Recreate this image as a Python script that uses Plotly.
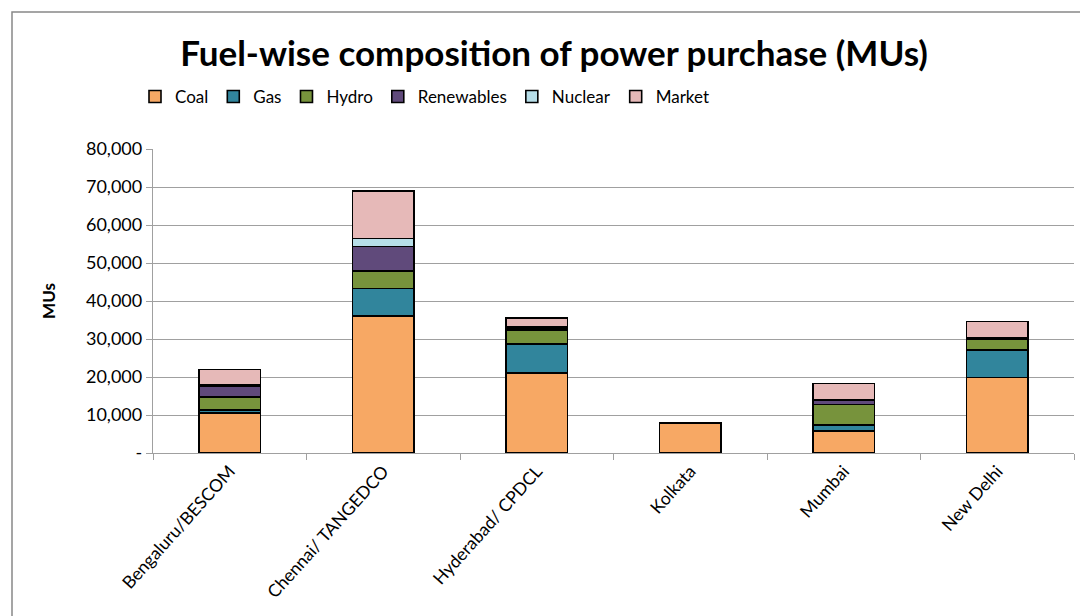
import plotly.graph_objects as go

cities = ["Bengaluru/BESCOM", "Chennai/ TANGEDCO", "Hyderabad/ CPDCL", "Kolkata", "Mumbai", "New Delhi"]
coal = [10500, 36100, 21000, 7800, 5800, 19900]
gas = [800, 7200, 7700, 0, 1600, 7200]
hydro = [3500, 4600, 3700, 0, 5400, 2900]
renewables = [2800, 6400, 300, 0, 1100, 200]
nuclear = [400, 2200, 400, 0, 0, 100]
market = [4000, 12500, 2400, 150, 4400, 4300]

series = [
    ("Coal", coal, "#F7A864"),
    ("Gas", gas, "#31859C"),
    ("Hydro", hydro, "#77933C"),
    ("Renewables", renewables, "#604A7B"),
    ("Nuclear", nuclear, "#B7DEE8"),
    ("Market", market, "#E6B9B8"),
]

ytickvals = [0, 10000, 20000, 30000, 40000, 50000, 60000, 70000, 80000]
yticktext = ["-", "10,000", "20,000", "30,000", "40,000", "50,000", "60,000", "70,000", "80,000"]

fig = go.Figure()
for name, vals, col in series:
    fig.add_trace(go.Bar(
        x=cities, y=vals, name=name,
        marker=dict(color=col, line=dict(color="#000000", width=1.6)),
        width=0.4,
    ))

FONT = "Lato, Carlito, 'Open Sans', sans-serif"
W, H = 1080, 608
L, T, B, R = 145, 141, 163, 14
PW = W - L - R
PH = H - T - B

fig.update_layout(
    barmode="stack",
    width=W, height=H,
    margin=dict(l=L, r=R, t=T, b=B),
    paper_bgcolor="white", plot_bgcolor="white",
    font=dict(family=FONT, color="#000000", size=17),
    title=dict(text="<b>Fuel-wise composition of power purchase (MUs)</b>",
               x=546 / W, xanchor="center", y=1 - 46 / H, yanchor="middle",
               font=dict(size=35, family=FONT)),
    legend=dict(orientation="h", x=(127 - L) / PW, xanchor="left",
                y=1 + (T - 89) / PH, yanchor="middle",
                font=dict(size=17), traceorder="normal", bgcolor="rgba(0,0,0,0)",
                itemwidth=30),
    xaxis=dict(showline=True, linecolor="#a0a0a0", linewidth=1.3,
               ticks="outside", tickson="boundaries", ticklen=6, tickcolor="#a0a0a0",
               tickangle=-48, tickfont=dict(size=17.5), showgrid=False),
    yaxis=dict(range=[0, 80000], tickvals=ytickvals, ticktext=yticktext,
               showline=True, linecolor="#a0a0a0", linewidth=1.3,
               ticks="outside", ticklen=6, tickcolor="#a0a0a0",
               showgrid=True, gridcolor="#a0a0a0", gridwidth=1.3,
               tickfont=dict(size=18),
               title=dict(text="<b>MUs</b>", font=dict(size=17), standoff=26)),
    shapes=[dict(type="rect", xref="paper", yref="paper",
                 x0=(4 - L) / PW, x1=1.05, y0=-0.8, y1=1 + (T - 4) / PH,
                 line=dict(color="#888888", width=1.5), fillcolor="rgba(0,0,0,0)")],
)

fig.write_html("out.html")
